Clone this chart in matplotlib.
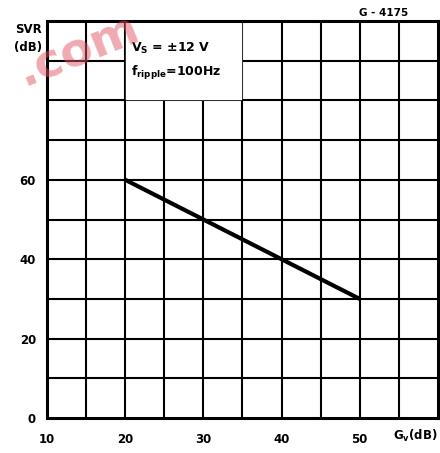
import matplotlib
matplotlib.use("Agg")
import matplotlib.pyplot as plt
import numpy as np

# supply voltage rejection vs gain
gain_db = [20, 50]
svr_db = [60, 30]

x_ticks = [10, 20, 30, 40, 50]
y_ticks = [0, 20, 40, 60]

fig = plt.figure(figsize=(4.4, 4.53), dpi=100)
ax = fig.add_axes([0.107, 0.0773, 0.888, 0.8763])

ax.set_xlim(10, 60)
ax.set_ylim(0, 100)

# grid every 5 dB on x, 10 dB on y
for gx in np.arange(15, 60, 5):
    ax.axvline(gx, color="black", lw=1.5, zorder=1)
for gy in np.arange(10, 100, 10):
    ax.axhline(gy, color="black", lw=1.5, zorder=1)

for s in ax.spines.values():
    s.set_linewidth(2.2)

# white box for the conditions text
ax.fill_between([20.15, 34.85], 80.3, 99.7, color="white", zorder=2)

ax.plot(gain_db, svr_db, color="black", lw=3, zorder=3, solid_capstyle="butt")

ax.set_xticks(x_ticks)
ax.set_yticks(y_ticks)
ax.set_xticklabels([str(t) for t in x_ticks], fontsize=8.5, fontweight="bold")
ax.set_yticklabels([str(t) for t in y_ticks], fontsize=8.5, fontweight="bold")
ax.tick_params(axis="x", length=0, pad=11)
ax.tick_params(axis="y", length=0, pad=8)

ax.text(60, -4.6, r"G$_\mathbf{v}$(dB)", ha="right", va="center", fontsize=8.5,
        fontweight="bold", clip_on=False)
fig.text(0.064, 0.934, "SVR", ha="center", va="center", fontsize=8.5,
         fontweight="bold")
fig.text(0.064, 0.896, "(dB)", ha="center", va="center", fontsize=8.5,
         fontweight="bold")
fig.text(0.873, 0.972, "G - 4175", ha="center", va="center", fontsize=7.5,
         fontweight="bold")

ax.text(20.8, 93.2, r"V$_\mathbf{S}$ = ±12 V", fontsize=9, fontweight="bold",
        va="center", zorder=4)
ax.text(20.8, 86.8, r"f$_\mathbf{ripple}$=100Hz", fontsize=9, fontweight="bold",
        va="center", zorder=4)

# watermark from the scanned datasheet
fig.text(0.025, 0.81, ".com", fontsize=34, fontweight="bold", color="#e05565",
         alpha=0.5, rotation=22, ha="left", va="baseline", zorder=10)

fig.savefig("out.png", dpi=100)
